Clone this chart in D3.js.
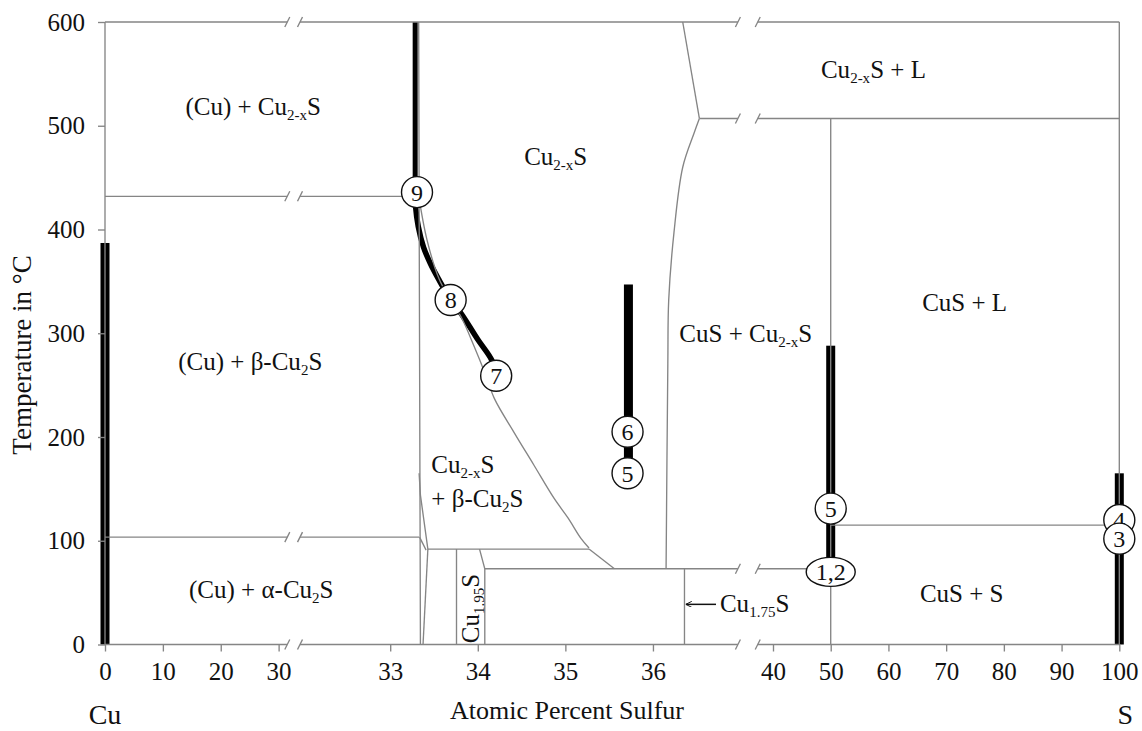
<!DOCTYPE html>
<html>
<head>
<script src="https://d3js.org/d3.v7.min.js"></script>
<style>
    body { margin: 0; background: #fff; }
    svg { display: block; }
    text { font-family: "Liberation Serif", "Times New Roman", Times, "DejaVu Serif", serif; fill: #111; }
    .line { fill: none; stroke: #858585; stroke-width: 1.35; }
    .tick line { stroke: #858585; stroke-width: 1.35; }
    .tick text { font-size: 25px; }
    .mark { fill: #fff; stroke: #111; stroke-width: 1.4; }
</style>
</head>
<body>
<svg width="1142" height="731"></svg>
<script>
// ticks and broken x axis (atomic % S)
var yTicks = [0, 100, 200, 300, 400, 500, 600];
var xTicks = [0, 10, 20, 30, 33, 34, 35, 36, 40, 50, 60, 70, 80, 90, 100];
var xBreaks = [[31.5, 31.97], [36.97, 37.35]];

// isotherms: [T, from %S, to %S]
var isotherms = [
    [600, 0, 100], [0, 0, 100], [432, 0, 33.3], [103.5, 0, 33.33],
    [92, 33.43, 35.27], [73, 34.08, 50], [507, 36.53, 100], [115, 50, 100]
];

// phase boundaries: [%S, T]
var cuLine = [[0, 600], [0, 0]];
var sLine = [[100, 600], [100, 0]];
var cu2sLine = [[33.325, 600], [33.33, 435], [33.345, 0]];
var cu2xsLeft = [[33.32, 435], [33.42, 390], [33.56, 352], [33.69, 332], [33.82, 314], [33.96, 287],
    [34.08, 262], [34.19, 237], [34.41, 205], [34.64, 173], [34.87, 141], [35.03, 122], [35.18, 102], [35.27, 93]];
var digeniteEdge = [[35.27, 92], [35.56, 73]];
var cu2xsTop = [[36.34, 600], [36.53, 507]];
var cu2xsRight = [[36.53, 507], [36.47, 493], [36.34, 460], [36.24, 397], [36.18, 332], [36.17, 271], [36.15, 73]];
var betaEdge = [[33.33, 165], [33.345, 144], [33.43, 92]];
var betaEdgeLow = [[33.335, 103.5], [33.41, 91]];
var chalcociteLow = [[33.43, 92], [33.375, 0]];
var cu195Left = [[33.757, 92], [33.757, 0]];
var cu195Right = [[34.02, 92], [34.08, 73], [34.08, 0]];
var cu175Right = [[36.36, 73], [36.36, 0]];
var cusLine = [[50, 507], [50, 0]];

// measured ranges: [%S, Tlow, Thigh]
var wideBars = [[0, 0, 387], [35.72, 165, 347], [50, 70, 288], [100, 0, 165]];
var cu2sBar = [[33.285, 435, 600]];
var thickPath = [[33.285, 435], [33.29, 422], [33.32, 403], [33.38, 383], [33.46, 367], [33.56, 351],
    [33.69, 332], [33.81, 319], [34.0, 294], [34.16, 274], [34.21, 259]];

// numbered points: [label, %S, T]
var points = [["9", 33.306, 436], ["8", 33.69, 332], ["7", 34.21, 259], ["6", 35.71, 205],
    ["5", 35.71, 165], ["5", 50, 131], ["4", 100, 120], ["3", 100, 102]];
var ovalPoints = [["1,2", 50, 70]];

// phase labels: parts ([text, isSub]), %S, T
var phaseLabels = [
    [[["(Cu) + Cu"], ["2-x", 1], ["S"]], 25.6, 510],
    [[["(Cu) + β-Cu"], ["2", 1], ["S"]], 25.1, 265],
    [[["(Cu) + α-Cu"], ["2", 1], ["S"]], 27.0, 45],
    [[["Cu"], ["2-x", 1], ["S"]], 34.89, 462],
    [[["CuS + Cu"], ["2-x", 1], ["S"]], 37.12, 292],
    [[["Cu"], ["2-x", 1], ["S + L"]], 57.4, 546],
    [[["CuS + L"]], 73.2, 321],
    [[["CuS + S"]], 72.7, 41]
];

var svg = d3.select("svg");

var x = d3.scaleLinear()
    .domain([0, 31.5, 31.97, 36.97, 37.35, 100])
    .range([105, 287.3, 300, 737.9, 757.7, 1119.3]);
var y = d3.scaleLinear().domain([0, 600]).range([644.5, 22]);

var line = d3.line().x(function(d) { return x(d[0]); }).y(function(d) { return y(d[1]); });
var curve = d3.line().curve(d3.curveCatmullRom).x(function(d) { return x(d[0]); }).y(function(d) { return y(d[1]); });

// black measured ranges go underneath the grey lines
svg.selectAll(".bar").data(wideBars).enter().append("rect")
    .attr("x", function(d) { return x(d[0]) - 4.5; })
    .attr("y", function(d) { return y(d[2]); })
    .attr("width", 9)
    .attr("height", function(d) { return y(d[1]) - y(d[2]); })
    .attr("fill", "#000");
svg.selectAll(".bar2").data(cu2sBar).enter().append("rect")
    .attr("x", function(d) { return x(d[0]) - 2.5; })
    .attr("y", function(d) { return y(d[2]); })
    .attr("width", 5)
    .attr("height", function(d) { return y(d[1]) - y(d[2]); })
    .attr("fill", "#000");
svg.append("path").attr("d", curve(thickPath))
    .attr("fill", "none").attr("stroke", "#000").attr("stroke-width", 5.5);

// isotherms, split at the axis breaks
function slash(px, py) {
    svg.append("line").attr("class", "line")
        .attr("x1", px - 2.5).attr("y1", py + 5).attr("x2", px + 2.5).attr("y2", py - 5);
}
isotherms.forEach(function(d) {
    var pieces = [[d[1], d[2]]];
    xBreaks.forEach(function(b) {
        var last = pieces[pieces.length - 1];
        if (last[0] < b[0] && last[1] > b[1]) {
            pieces.pop();
            pieces.push([last[0], b[0]], [b[1], last[1]]);
            slash(x(b[0]), y(d[0]));
            slash(x(b[1]), y(d[0]));
        }
    });
    pieces.forEach(function(p) {
        svg.append("path").attr("class", "line").attr("d", line([[p[0], d[0]], [p[1], d[0]]]));
    });
});

[cuLine, sLine, cu2sLine, digeniteEdge, cu2xsTop, betaEdge, betaEdgeLow, chalcociteLow,
 cu195Left, cu195Right, cu175Right, cusLine].forEach(function(d) {
    svg.append("path").attr("class", "line").attr("d", line(d));
});
[cu2xsLeft, cu2xsRight].forEach(function(d) {
    svg.append("path").attr("class", "line").attr("d", curve(d));
});

// axes
svg.append("g")
    .attr("transform", "translate(0," + y(0) + ")")
    .call(d3.axisBottom(x).tickValues(xTicks).tickSize(7).tickPadding(11).tickFormat(d3.format("d")))
    .call(function(g) { g.select(".domain").remove(); });
svg.append("g")
    .attr("transform", "translate(" + x(0) + ",0)")
    .call(d3.axisLeft(y).tickValues(yTicks).tickSize(7).tickPadding(13))
    .call(function(g) { g.select(".domain").remove(); });

// numbered points
var pt = svg.selectAll(".pt").data(points).enter().append("g")
    .attr("transform", function(d) { return "translate(" + x(d[1]) + "," + y(d[2]) + ")"; });
pt.append("circle").attr("class", "mark").attr("r", 15.5);
pt.append("text").attr("text-anchor", "middle").attr("dy", "0.35em")
    .style("font-size", "24px").text(function(d) { return d[0]; });

var ov = svg.selectAll(".ov").data(ovalPoints).enter().append("g")
    .attr("transform", function(d) { return "translate(" + x(d[1]) + "," + y(d[2]) + ")"; });
ov.append("ellipse").attr("class", "mark").attr("rx", 24.5).attr("ry", 14.5);
ov.append("text").attr("text-anchor", "middle").attr("dy", "0.35em")
    .style("font-size", "24px").text(function(d) { return d[0]; });

// text with subscripts
function label(parent, parts, anchor) {
    var t = parent.append("text").attr("text-anchor", anchor || "middle").style("font-size", "25px");
    var sub = false;
    parts.forEach(function(p) {
        var s = t.append("tspan").text(p[0]);
        if (p[1]) { s.style("font-size", "15px").attr("dy", 5); sub = true; }
        else if (sub) { s.attr("dy", -5); sub = false; }
    });
    return t;
}
phaseLabels.forEach(function(d) {
    label(svg, d[0]).attr("x", x(d[1])).attr("y", y(d[2]));
});

// two-line label in the Cu2-xS + beta field
label(svg, [["Cu"], ["2-x", 1], ["S"]], "start").attr("x", x(33.47)).attr("y", y(165));
label(svg, [["+ β-Cu"], ["2", 1], ["S"]], "start").attr("x", x(33.47)).attr("y", y(133));

// Cu1.95S, rotated
label(svg.append("g").attr("transform", "translate(" + x(34.014) + "," + y(34.7) + ") rotate(-90)"),
    [["Cu"], ["1.95", 1], ["S"]]);

// Cu1.75S with arrow pointing at its phase line
svg.append("defs").append("marker").attr("id", "arr")
    .attr("viewBox", "0 0 10 10").attr("refX", 10).attr("refY", 5)
    .attr("markerWidth", 4).attr("markerHeight", 4).attr("orient", "auto")
    .append("path").attr("d", "M0,0 L10,5 L0,10").attr("fill", "none").attr("stroke", "#111").attr("stroke-width", 1.6);
svg.append("line")
    .attr("x1", x(36.72)).attr("y1", y(38.7)).attr("x2", x(36.375)).attr("y2", y(38.7))
    .attr("stroke", "#111").attr("stroke-width", 1.5).attr("marker-end", "url(#arr)");
label(svg, [["Cu"], ["1.75", 1], ["S"]], "start").attr("x", x(36.765)).attr("y", y(31.6));

// axis titles
svg.append("text").attr("x", 567).attr("y", 719).attr("text-anchor", "middle")
    .style("font-size", "26px").text("Atomic Percent Sulfur");
svg.append("text").attr("transform", "translate(31,355) rotate(-90)").attr("text-anchor", "middle")
    .style("font-size", "27px").text("Temperature in °C");
svg.append("text").attr("x", x(0)).attr("y", 724).attr("text-anchor", "middle")
    .style("font-size", "28px").text("Cu");
svg.append("text").attr("x", x(100) + 6).attr("y", 724).attr("text-anchor", "middle")
    .style("font-size", "28px").text("S");
</script>
</body>
</html>
